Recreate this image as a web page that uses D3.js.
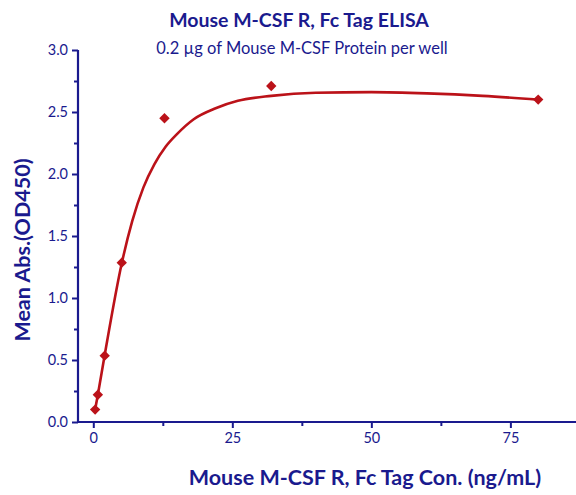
<!DOCTYPE html>
<html><head><meta charset="utf-8">
<script src="https://cdn.jsdelivr.net/npm/d3@7"></script>
<style>body{margin:0;background:#fff}svg{display:block}</style>
</head><body>
<svg id="c" width="576" height="495"></svg>
<script>
const concentrations = [0.33, 0.82, 2.05, 5.12, 12.8, 32, 80];
const absorbance = [0.10, 0.22, 0.535, 1.285, 2.45, 2.71, 2.60];
const fitX = [0.33, 0.82, 2.05, 5.12, 7, 9, 11, 13, 15, 18, 22, 26, 32, 40, 50, 60, 70, 80];
const fitY = [0.10, 0.22, 0.54, 1.28, 1.62, 1.89, 2.08, 2.22, 2.32, 2.44, 2.53, 2.59, 2.63, 2.655, 2.66, 2.65, 2.63, 2.60];
const xTicks = [0, 25, 50, 75];
const xMinor = [12.5, 37.5, 62.5];
const yTicks = [0, 0.5, 1.0, 1.5, 2.0, 2.5, 3.0];
const yMinor = [0.25, 0.75, 1.25, 1.75, 2.25, 2.75];
const title = "Mouse M-CSF R, Fc Tag ELISA";
const subtitle = "0.2 \u00b5g of Mouse M-CSF Protein per well";
const xTitle = "Mouse M-CSF R, Fc Tag Con. (ng/mL)";
const yTitle = "Mean Abs.(OD450)";

const navy = "#1a1a8e";
const red = "#bb1219";
const font = "Lato, 'Open Sans', sans-serif";
const svg = d3.select("#c");
const x = d3.scaleLinear().domain([-2.75, 86.8]).range([78, 576]);
const y = d3.scaleLinear().domain([0, 3]).range([422, 50]);

// axes
const xAxis = svg.append("g").attr("transform", `translate(0,${y(0)})`)
  .call(d3.axisBottom(x).tickValues(xTicks).tickSize(6).tickPadding(5).tickFormat(d3.format("d")));
const xAxisMinor = svg.append("g").attr("transform", `translate(0,${y(0)})`)
  .call(d3.axisBottom(x).tickValues(xMinor).tickSize(4).tickFormat(""));
const yAxis = svg.append("g").attr("transform", `translate(${x(-2.75)},0)`)
  .call(d3.axisLeft(y).tickValues(yTicks).tickSize(6).tickPadding(4).tickFormat(d3.format(".1f")));
const yAxisMinor = svg.append("g").attr("transform", `translate(${x(-2.75)},0)`)
  .call(d3.axisLeft(y).tickValues(yMinor).tickSize(4).tickFormat(""));
[xAxis, xAxisMinor, yAxis, yAxisMinor].forEach(g => {
  g.select(".domain").attr("stroke", navy).attr("stroke-width", 2.2);
  g.selectAll(".tick line").attr("stroke", navy).attr("stroke-width", 2);
  g.selectAll("text").attr("fill", navy).attr("font-family", font).attr("font-size", 14.5);
});
xAxisMinor.select(".domain").remove();
yAxisMinor.select(".domain").remove();
xAxis.select(".domain").attr("d", `M${x(-2.75)},0H576`);
yAxis.select(".domain").attr("d", `M0,${y(3)}V${y(0)}`);

// fitted curve
const fit = fitX.map((v, i) => [v, fitY[i]]);
svg.append("path").datum(fit)
  .attr("fill", "none").attr("stroke", red).attr("stroke-width", 2.6)
  .attr("d", d3.line().x(d => x(d[0])).y(d => y(d[1])).curve(d3.curveMonotoneX));

// points
const sym = d3.symbol().type(d3.symbolSquare).size(54);
svg.append("g").selectAll("path").data(concentrations).join("path")
  .attr("d", sym)
  .attr("transform", (d, i) => `translate(${x(d)},${y(absorbance[i])}) rotate(45)`)
  .attr("fill", red);

// texts
svg.append("text").attr("x", 299).attr("y", 27).attr("text-anchor", "middle")
  .attr("font-family", font).attr("font-weight", "bold").attr("font-size", 19.5)
  .attr("fill", navy).text(title);
svg.append("text").attr("x", 302).attr("y", 54).attr("text-anchor", "middle")
  .attr("font-family", font).attr("font-size", 16.5)
  .attr("fill", navy).text(subtitle);
svg.append("text").attr("x", 365).attr("y", 485).attr("text-anchor", "middle")
  .attr("font-family", font).attr("font-weight", "bold").attr("font-size", 21.5)
  .attr("fill", navy).text(xTitle);
svg.append("text").attr("transform", "translate(30,250) rotate(-90)").attr("text-anchor", "middle")
  .attr("font-family", font).attr("font-weight", "bold").attr("font-size", 21.5)
  .attr("fill", navy).text(yTitle);
</script>
</body></html>
